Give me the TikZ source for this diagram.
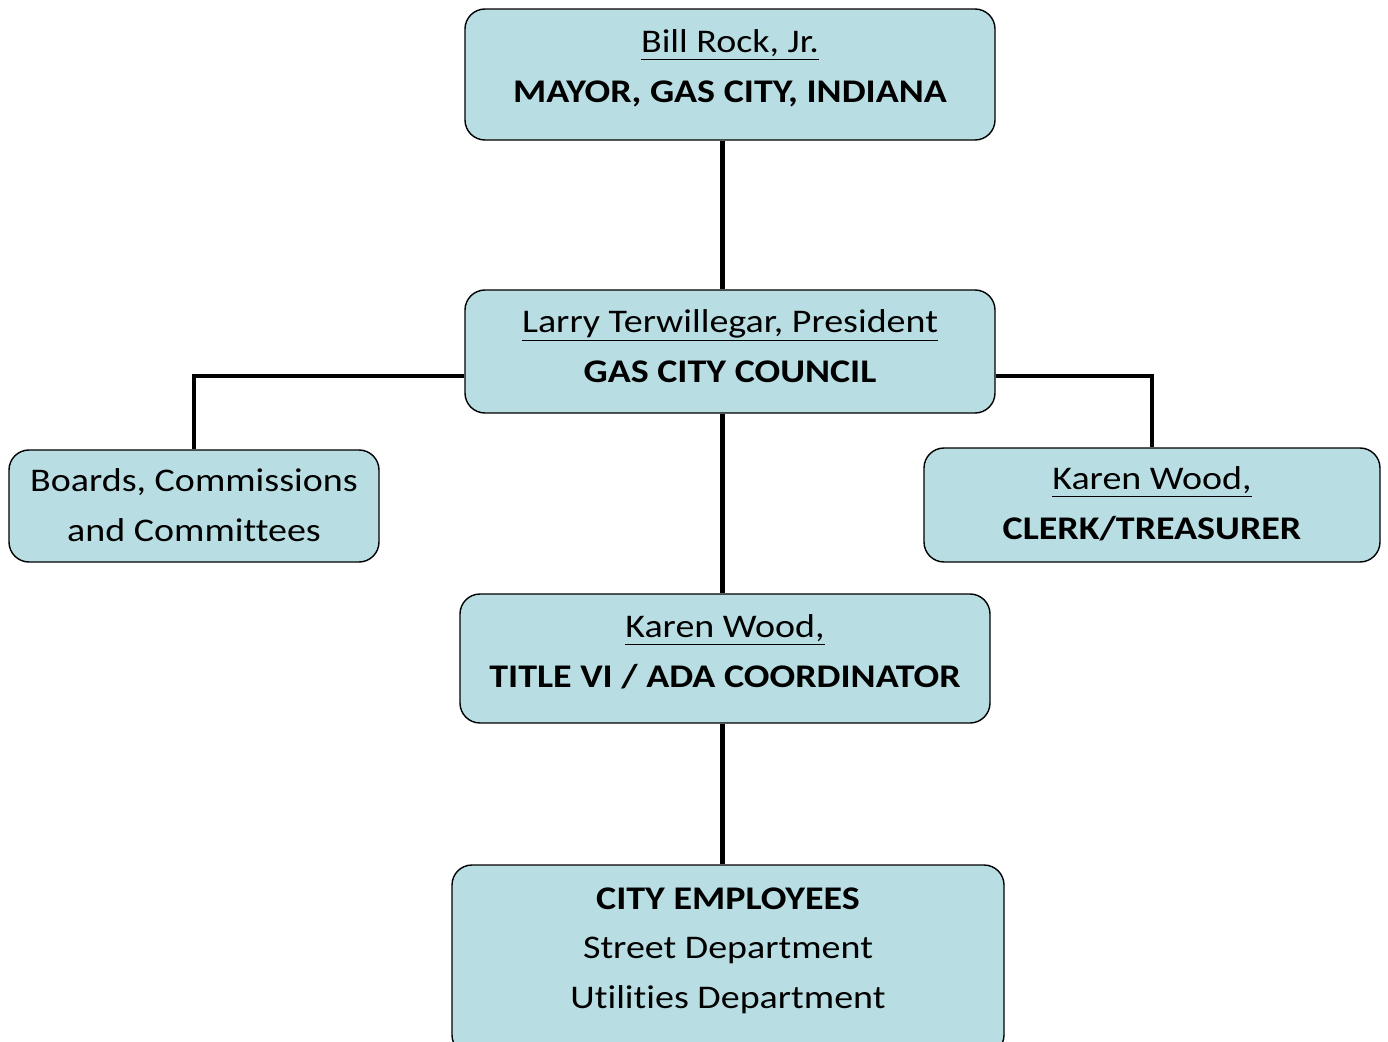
\documentclass[tikz,border=0pt]{standalone}
\usepackage{fontspec}
\setmainfont[FakeStretch=1.15,Ligatures={NoCommon,NoContextual}]{Carlito}
\usepackage{tikz}
\usetikzlibrary{calc}
\definecolor{boxfill}{RGB}{184,222,227}

\begin{document}
\begin{tikzpicture}[
    box/.style={draw,thick,fill=boxfill,rounded corners=0.4cm},
    txt/.style={align=center,font=\fontsize{18.8}{28.2}\selectfont},
    link/.style={line width=2.4pt}]
    \useasboundingbox (0,0) rectangle (27.76,-20.84);
    % boxes
    \node[box,minimum width=10.6cm,minimum height=2.62cm] (mayor) at (14.6,-1.49) {};
    \node[box,minimum width=10.6cm,minimum height=2.46cm] (council) at (14.6,-7.03) {};
    \node[box,minimum width=7.4cm,minimum height=2.24cm] (boards) at (3.88,-10.12) {};
    \node[box,minimum width=9.12cm,minimum height=2.28cm] (clerk) at (23.04,-10.10) {};
    \node[box,minimum width=10.6cm,minimum height=2.58cm] (title) at (14.5,-13.17) {};
    \node[box,minimum width=11.04cm,minimum height=3.8cm] (staff) at (14.56,-19.2) {};
    % texts
    \node[txt] (mayor-t) at (14.6,-1.36) {\underline{Bill Rock, Jr.}\\ \textbf{MAYOR, GAS CITY, INDIANA}};
    \node[txt] (council-t) at (14.6,-6.92) {\underline{Larry Terwillegar, President}\\ \textbf{GAS CITY COUNCIL}};
    \node[txt] (boards-t) at (3.88,-10.1) {Boards, Commissions\\ and Committees};
    \node[txt] (clerk-t) at (23.04,-10.08) {\underline{Karen Wood,}\\ \textbf{CLERK/TREASURER}};
    \node[txt] (title-t) at (14.5,-13.03) {\underline{Karen Wood,}\\ \textbf{TITLE VI / ADA COORDINATOR}};
    \node[txt] (staff-t) at (14.56,-19.01) {\textbf{CITY EMPLOYEES}\\ Street Department\\ Utilities Department};
    % connectors
    \coordinate (spine) at (14.45,0);
    \draw[link] (mayor.south -| spine) -- (council.north -| spine);
    \draw[link] (council.south -| spine) -- (title.north -| spine);
    \draw[link] (title.south -| spine) -- (staff.north -| spine);
    \draw[link] ([yshift=-0.49cm]council.west) -| (boards.north);
    \draw[link] ([yshift=-0.49cm]council.east) -| (clerk.north);
\end{tikzpicture}
\end{document}
